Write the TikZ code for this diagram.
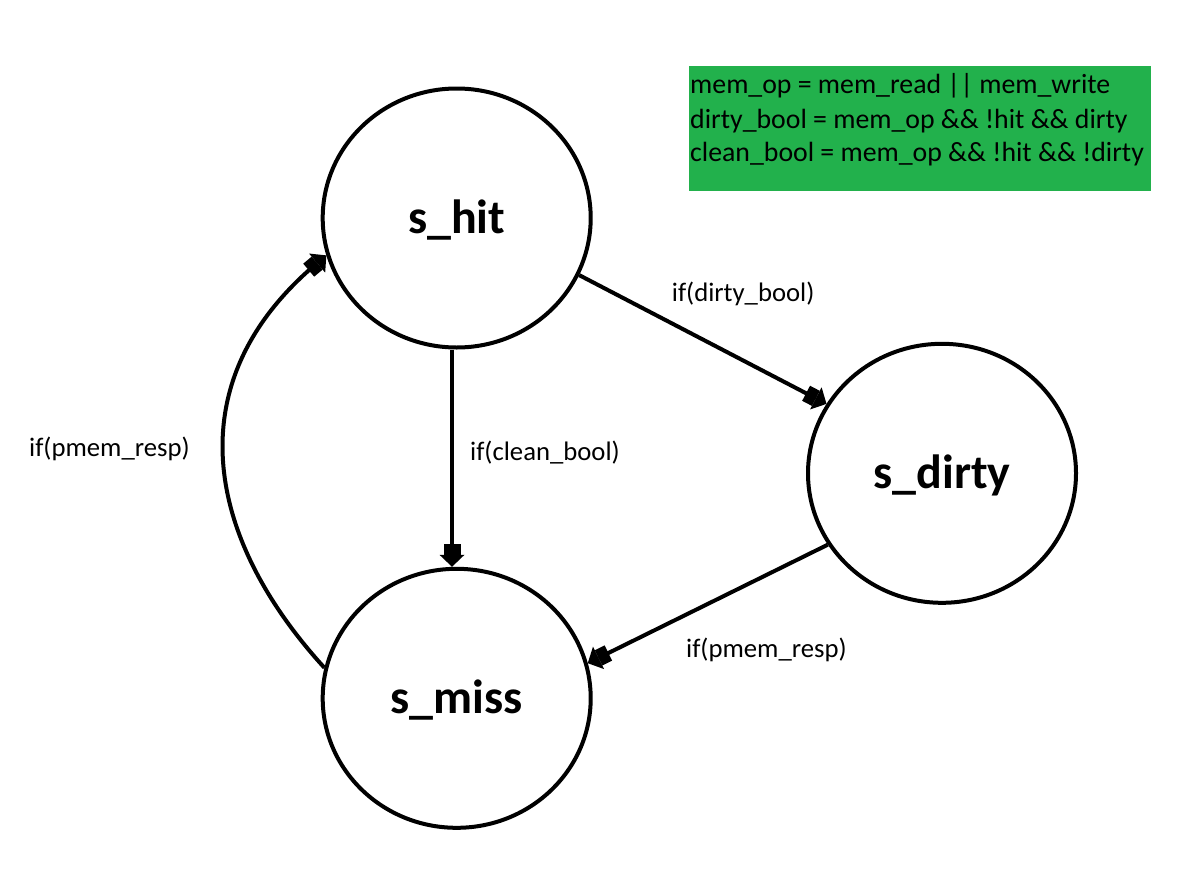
\documentclass[tikz,border=0pt]{standalone}
\usepackage{fontspec}
\setmainfont{Carlito}
\usetikzlibrary{arrows.meta,shapes.geometric}
\definecolor{paintgreen}{HTML}{22B14C}
\begin{document}
\begin{tikzpicture}[x=1pt,y=-1pt,
  state/.style={ellipse, draw, line width=4pt, minimum width=268pt, minimum height=259pt,
    inner sep=0pt, font=\fontsize{48}{56}\selectfont\bfseries, text height=34pt, text depth=4pt},
  conn/.style={line width=4pt,
    -{Rectangle[length=11pt,width=17pt,line width=0pt] Triangle[length=12pt,width=25pt,line width=0pt]}},
  lbl/.style={font=\fontsize{26.7}{32}\selectfont, inner sep=0pt, anchor=base west},
  boxtxt/.style={font=\fontsize{27.8}{33}\selectfont, inner sep=0pt, anchor=base west}]
\useasboundingbox (0,0) rectangle (1180,878);
\fill[white] (0,0) rectangle (1180,878);

\node[state] (hit) at (456.7,218) {s\_hit};
\node[state] (miss) at (456.7,698.3) {s\_miss};
\node[state] (dirty) at (942,473.3) {s\_dirty};

\node[fill=paintgreen, minimum width=462pt, minimum height=125pt, inner sep=0pt, anchor=north west] (box) at (689,66) {};
\node[boxtxt] (l1) at (690,93.3) {mem\_op = mem\_read || mem\_write};
\node[boxtxt] (l2) at (690,128.3) {dirty\_bool = mem\_op \&\& !hit \&\& dirty};
\node[boxtxt] (l3) at (690,161.7) {clean\_bool = mem\_op \&\& !hit \&\& !dirty};

\draw[conn] (hit.335.8) -- (dirty.149);
\draw[conn] ([xshift=-4.7pt]hit.south) -- ([xshift=-4.7pt]miss.north);
\draw[conn] (dirty.212.6) -- (miss.15.4);
\draw[conn] (miss.167) .. controls (207.3,539.5) and (173.8,383.6) .. (hit.196);

\node[lbl] (t1) at (671.7,301.7) {if(dirty\_bool)};
\node[lbl] (t2) at (470,460) {if(clean\_bool)};
\node[lbl] (t3) at (29,456.7) {if(pmem\_resp)};
\node[lbl] (t4) at (686,657) {if(pmem\_resp)};
\end{tikzpicture}
\end{document}
